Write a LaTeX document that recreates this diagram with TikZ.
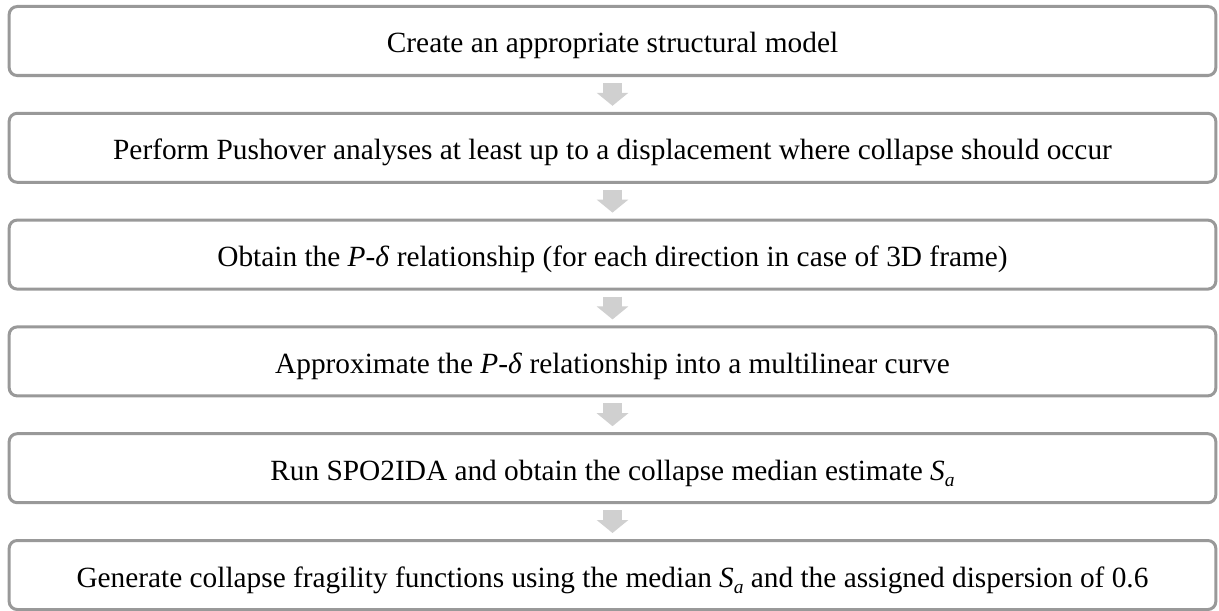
\documentclass[tikz,border=0pt]{standalone}
\usepackage{fontspec}
\setmainfont{Liberation Serif}
\usetikzlibrary{arrows.meta}
\definecolor{boxgray}{HTML}{999999}
\definecolor{arrowgray}{HTML}{D0D0D0}
\newcommand{\subsa}{\textit{S}\raisebox{-0.45ex}{\fontsize{14.6}{16}\selectfont\textit{a}}}
\tikzset{
  stepbox/.style={draw=boxgray, line width=2.25pt, rounded corners=6pt,
    minimum width=905pt, minimum height=51.75pt, inner sep=0pt,
    text height=20pt, text depth=2pt,
    font=\fontsize{22}{25}\selectfont},
  downarrow/.style={draw=arrowgray, line width=14.25pt,
    -{Triangle[width=23.25pt,length=9.75pt]}, shorten <=4.5pt, shorten >=4.5pt}
}

\begin{document}
\begin{tikzpicture}[x=0.75pt, y=-0.75pt]
			%%%%% START %%%%%
			\useasboundingbox (0, 0) rectangle (1219, 610);
			
			\node[stepbox] (s1) at (612.5, 41.0) {Create an appropriate structural model};
			\node[stepbox] (s2) at (612.5, 147.8) {Perform Pushover analyses at least up to a displacement where collapse should occur};
			\node[stepbox] (s3) at (612.5, 254.6) {Obtain the \textit{P}-\textit{δ} relationship (for each direction in case of 3D frame)};
			\node[stepbox] (s4) at (612.5, 361.4) {Approximate the \textit{P}-\textit{δ} relationship into a multilinear curve};
			\node[stepbox] (s5) at (612.5, 468.2) {Run SPO2IDA and obtain the collapse median estimate \subsa};
			\node[stepbox] (s6) at (612.5, 575.0) {Generate collapse fragility functions using the median \subsa{} and the assigned dispersion of 0.6};
			
			\foreach \a/\b in {s1/s2, s2/s3, s3/s4, s4/s5, s5/s6}
				\draw[downarrow] (\a.south) -- (\b.north);
			
			%%%%% END %%%%%
\end{tikzpicture}
\end{document}
